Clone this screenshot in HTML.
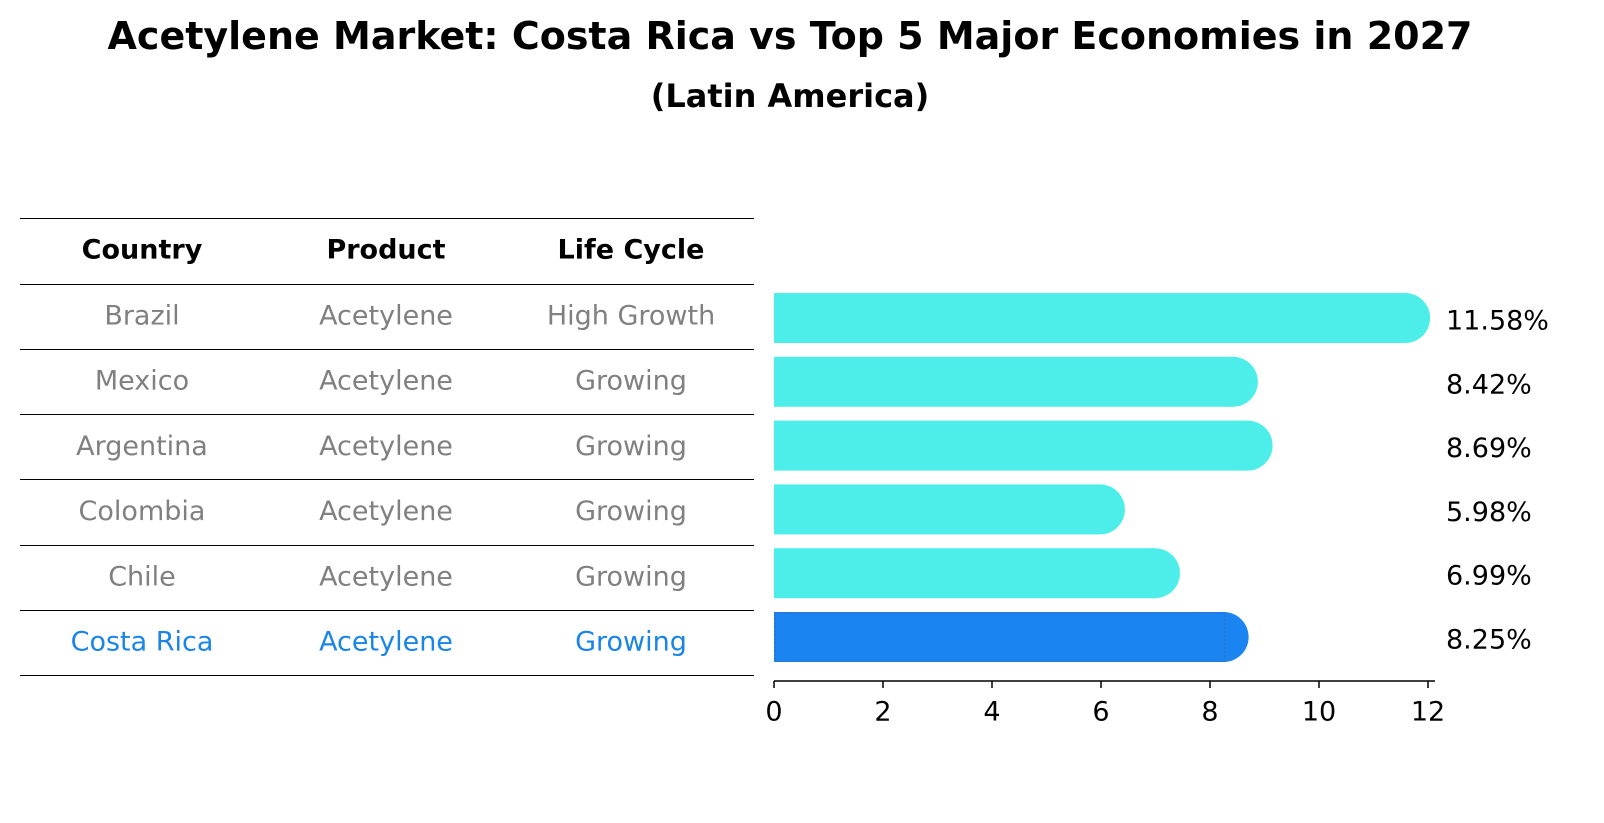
<!DOCTYPE html>
<html><head><meta charset="utf-8"><style>
body{margin:0;background:#fff;font-family:"DejaVu Sans","Liberation Sans",sans-serif;}
#wrap{position:relative;width:1604px;height:823px;overflow:hidden;}
.t{position:absolute;white-space:nowrap;}
</style></head><body>
<div id="wrap">
<div class="t" style="left:0;width:1580px;text-align:center;top:14px;font-size:38px;font-weight:bold;font-family:'DejaVu Sans',sans-serif;">Acetylene Market: Costa Rica vs Top 5 Major Economies in 2027</div>
<div class="t" style="left:0;width:1580px;text-align:center;top:77px;font-size:32px;font-weight:bold;font-family:'DejaVu Sans',sans-serif;">(Latin America)</div>
<svg id="svg" width="1604" height="823" style="position:absolute;left:0;top:0"></svg>
</div>
<script>
const countries=["Brazil","Mexico","Argentina","Colombia","Chile","Costa Rica"];
const products=["Acetylene","Acetylene","Acetylene","Acetylene","Acetylene","Acetylene"];
const lifeCycles=["High Growth","Growing","Growing","Growing","Growing","Growing"];
const values=[11.58,8.42,8.69,5.98,6.99,8.25];
const ticks=[0,2,4,6,8,10,12];
const highlight="Costa Rica";

const NS="http://www.w3.org/2000/svg";
const svg=document.getElementById('svg');
const FONT="'DejaVu Sans','Liberation Sans',sans-serif";
const FS=27;
const x=v=>774+v*54.5;
const rowY=i=>318+i*63.8;
function mk(tag,attrs,parent){const e=document.createElementNS(NS,tag);for(const k in attrs)e.setAttribute(k,attrs[k]);(parent||svg).appendChild(e);return e;}
function txt(s,x0,y0,anchor,size,color,weight){const e=mk('text',{x:x0,y:y0,'text-anchor':anchor,'font-size':size,fill:color,'font-family':FONT,'dominant-baseline':'central','font-weight':weight||'normal'});e.textContent=s;return e;}

// table
const lineYs=[218,284,349,414,479,545,610,675];
lineYs.forEach((ly)=>{const l=mk('line',{x1:20,x2:754,y1:ly+0.5,y2:ly+0.5,stroke:'#000','stroke-width':1,'shape-rendering':'crispEdges'});

});
const cols=[142,386,631];
["Country","Product","Life Cycle"].forEach((h,j)=>{const e=txt(h,cols[j],250,'middle',FS,'#000','bold');

});
countries.forEach((c,i)=>{
  const col=c===highlight?'#1a85e8':'#808080';
  const cy=316+i*65.2;
  [c,products[i],lifeCycles[i]].forEach((s,j)=>{const e=txt(s,cols[j],cy,'middle',FS,col);
  
  });
});

// bars
const h=50;
values.forEach((v,i)=>{
  const cy=rowY(i);
  const hl=countries[i]===highlight;
  const g=mk('g',{});
  
  
  const fill=hl?'#1a85f0':'#4deeea';
  mk('rect',{x:x(0),y:cy-h/2,width:x(v)-x(0),height:h,fill:fill},g);
  mk('circle',{cx:x(v),cy:cy,r:h/2,fill:fill},g);
  if(hl){mk('rect',{x:x(0)+1,y:cy-h/2+1,width:x(v)-x(0),height:h-2,fill:'none',stroke:'#2f6fd0','stroke-width':1.5,'stroke-dasharray':'2 2'},g);}
  const t=txt(v.toFixed(2)+'%',1446,cy+3,'start',FS,'#000');
  
  
});

// axis
const ax=mk('line',{x1:774,x2:1435,y1:681,y2:681,stroke:'#000','stroke-width':1.5});


ticks.forEach(t=>{
  const tk=mk('line',{x1:x(t),x2:x(t),y1:681,y2:688,stroke:'#000','stroke-width':1.5});
  
  
  const l=txt(String(t),x(t),712,'middle',FS,'#000');
  
  
});
</script>
</body></html>
